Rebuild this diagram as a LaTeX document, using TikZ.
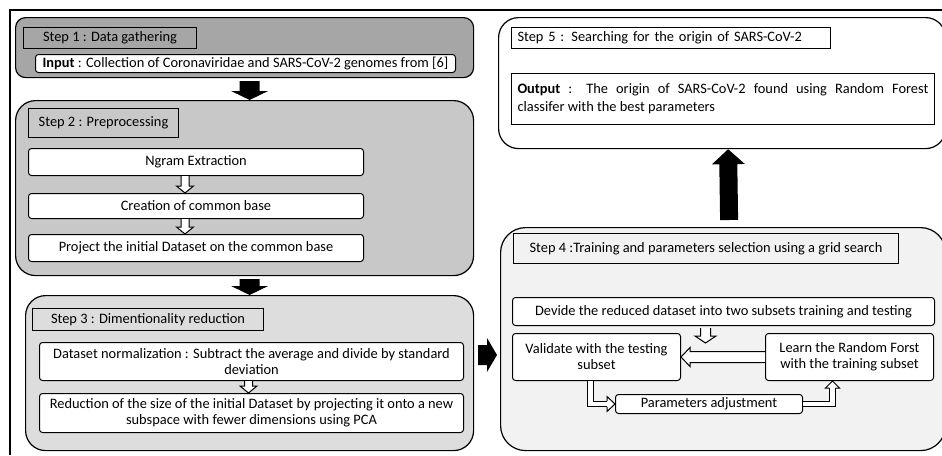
\documentclass[tikz,border=0pt]{standalone}
\usepackage{fontspec}
\setmainfont{Carlito}
\usetikzlibrary{calc}
\definecolor{gA}{RGB}{166,166,166}
\definecolor{gB}{RGB}{200,200,200}
\definecolor{gC}{RGB}{221,221,221}
\definecolor{gD}{RGB}{242,242,242}
\newcommand\arrcoords[5]{%
 \coordinate (hB) at ($(#2)!#5pt!(#1)$);
 \coordinate (hS1) at ($(#1)!#3pt!90:(#2)$);
 \coordinate (hS2) at ($(#1)!#3pt!-90:(#2)$);
 \coordinate (hB1) at ($(hB)!#3pt!90:(#2)$);
 \coordinate (hB2) at ($(hB)!#3pt!-90:(#2)$);
 \coordinate (hH1) at ($(hB)!#4pt!90:(#2)$);
 \coordinate (hH2) at ($(hB)!#4pt!-90:(#2)$);}
\newcommand\solidarr[5]{\arrcoords{#1}{#2}{#3}{#4}{#5}%
 \fill[black] (hS1) -- (hB1) -- (hH1) -- (#2) -- (hH2) -- (hB2) -- (hS2) -- cycle;}
\newcommand\hollowarr[5]{\arrcoords{#1}{#2}{#3}{#4}{#5}%
 \fill[white] (hS1) -- (hB1) -- (hH1) -- (#2) -- (hH2) -- (hB2) -- (hS2) -- cycle;
 \draw[thinline] (hS1) -- (hB1) -- (hH1) -- (#2) -- (hH2) -- (hB2) -- (hS2);}
\newcommand\hollowhead[5]{\arrcoords{#1}{#2}{#3}{#4}{#5}%
 \fill[white] (hB1) -- (hH1) -- (#2) -- (hH2) -- (hB2) -- cycle;
 \draw[thinline] (hB1) -- (hH1) -- (#2) -- (hH2) -- (hB2);}
\tikzset{
 thinline/.style={line width=1pt, line join=miter},
 bigbox/.style={draw, line width=1.2pt, anchor=north west, inner sep=0pt},
 tbox/.style={draw, line width=1pt, anchor=north west, inner sep=2pt},
 wbox/.style={draw, line width=1pt, rounded corners=3pt, fill=white, anchor=north west, inner sep=3pt},
 dshaft/.style={line width=1pt, double=white, double distance=4.6pt, line join=miter}
}
\begin{document}
\begin{tikzpicture}[x=1pt, y=-1pt, font=\fontsize{14.4}{16}\selectfont]
\useasboundingbox (0,0) rectangle (942,455);
% frame
\draw[line width=1.3pt] (10,455) -- (10,10) -- (942,10);
% Step 1
\node[bigbox, fill=gA, rounded corners=10pt, minimum width=458, minimum height=60] (s1) at (15,17) {};
\node[tbox, minimum width=173, minimum height=21] (s1t) at (23,27) {Step 1 : Data gathering};
\node[wbox, minimum width=420, minimum height=18, inner sep=1pt] (s1in) at (35,54) {\textbf{Input} : Collection of Coronaviridae and SARS-CoV-2 genomes from [6]};
% Step 2
\node[bigbox, fill=gB, rounded corners=20pt, minimum width=458, minimum height=175] (s2) at (15,100) {};
\node[tbox, minimum width=150, minimum height=29] (s2t) at (28,108) {Step 2 : Preprocessing};
\node[wbox, minimum width=335, minimum height=27] (s2a) at (28,148) {Ngram Extraction};
\node[wbox, minimum width=335, minimum height=25] (s2b) at (28,193) {Creation of common base};
\node[wbox, minimum width=335, minimum height=27] (s2c) at (28,234) {Project the initial Dataset on the common base};
% Step 3
\node[bigbox, fill=gC, rounded corners=20pt, minimum width=448, minimum height=155] (s3) at (25,295) {};
\node[tbox, minimum width=231, minimum height=22] (s3t) at (32,308) {Step 3 : Dimentionality reduction};
\node[wbox, minimum width=424, minimum height=38, align=center, inner sep=1pt] (s3a) at (39,342) {Dataset normalization : Subtract the average and divide by standard\\deviation};
\node[wbox, minimum width=424, minimum height=39, align=center, inner sep=1pt] (s3b) at (39,393) {Reduction of the size of the initial Dataset by projecting it onto a new\\subspace with fewer dimensions using PCA};
% Step 4
\node[bigbox, fill=gD, rounded corners=25pt, minimum width=445, minimum height=223] (s4) at (500,227) {};
\node[tbox, minimum width=385, minimum height=30] (s4t) at (513,233) {Step 4 :Training and parameters selection using a grid search};
\node[wbox, minimum width=422, minimum height=28] (s4a) at (512,297) {Devide the reduced dataset into two subsets training and testing};
\node[wbox, minimum width=168, minimum height=47, align=center, inner sep=1pt] (s4v) at (512,333) {Validate with the testing\\subset};
\node[wbox, minimum width=168, minimum height=47, align=center, inner sep=1pt] (s4l) at (765,333) {Learn the Random Forst\\with the training subset};
\node[wbox, minimum width=187, minimum height=19, inner sep=1pt] (s4p) at (615,394) {Parameters adjustment};
% Step 5
\node[bigbox, fill=white, rounded corners=20pt, minimum width=447, minimum height=131] (s5) at (498,17) {};
\node[tbox, minimum height=21, text width=307, align=left, inner sep=6pt, inner ysep=2pt] (s5t) at (511,27) {Step 5 : Searching for the origin of SARS-CoV-2};
\node[tbox, minimum height=51, text width=411, align=justify, inner sep=6pt, font=\fontsize{14.4}{18}\selectfont] (s5o) at (511,73) {\textbf{Output} : The origin of SARS-CoV-2 found using Random Forest\linebreak classifer with the best parameters};
% black arrows
\coordinate (a1s) at ($(s1.south -| s3.north)+(0,3)$);
\coordinate (a1e) at (s2.north -| s3.north);
\solidarr{a1s}{a1e}{10}{18.5}{9}
\coordinate (a2s) at ($(s2.south -| s3.north)+(0,3)$);
\coordinate (a2e) at (s3.north);
\solidarr{a2s}{a2e}{10}{18.5}{9}
\coordinate (a3s) at ($(s3.east |- 0,355)+(4,0)$);
\coordinate (a3e) at ($(s4.west |- 0,355)+(-3,0)$);
\solidarr{a3s}{a3e}{10}{17}{10}
\coordinate (a4s) at ($(s4.north)+(6,-7)$);
\coordinate (a4e) at ($(s5.south)+(6,0)$);
\solidarr{a4s}{a4e}{9}{16.5}{15}
% hollow arrows step 2
\coordinate (b1s) at ($(s2a.south)+(-11,0)$);
\coordinate (b1e) at (s2b.north -| b1s);
\hollowarr{b1s}{b1e}{4}{8.5}{7}
\coordinate (b2s) at ($(s2b.south)+(-11,0)$);
\coordinate (b2e) at (s2c.north -| b2s);
\hollowarr{b2s}{b2e}{4}{8.5}{7}
% step 3
\coordinate (b3s) at ($(s3a.south)+(-3,0)$);
\coordinate (b3e) at (s3b.north -| b3s);
\hollowarr{b3s}{b3e}{4}{8.5}{7}
% step 4
\coordinate (b4s) at ($(s4a.south)+(-18,2)$);
\coordinate (b4e) at ($(b4s)+(0,15)$);
\hollowarr{b4s}{b4e}{5}{10.5}{7}
\coordinate (b5s) at (s4l.west);
\coordinate (b5e) at (s4v.east);
\hollowarr{b5s}{b5e}{5.5}{9.5}{9}
% elbows
\coordinate (c1s) at ($(s4v.south)+(-6,0)$);
\coordinate (c1e) at (s4p.west);
\coordinate (c1b) at ($(c1e)+(-8,0)$);
\draw[dshaft] (c1s) |- (c1b);
\hollowhead{c1s |- c1e}{c1e}{2.8}{7.5}{8}
\coordinate (c2s) at (s4p.east);
\coordinate (c2e) at ($(s4l.south)+(-17,0)$);
\coordinate (c2b) at ($(c2e)+(0,7)$);
\draw[dshaft] (c2s) -| (c2b);
\hollowhead{c2s -| c2e}{c2e}{2.8}{7}{7}
\end{tikzpicture}
\end{document}
